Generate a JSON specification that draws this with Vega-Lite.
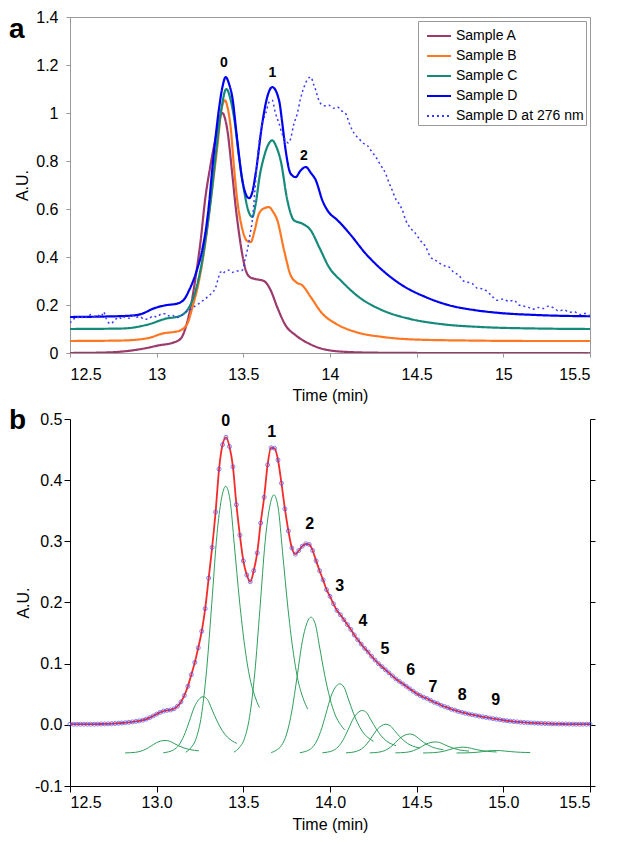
{
"$schema":"https://vega.github.io/schema/vega-lite/v6.json",
"background":"white",
"padding":{"left":8,"top":8,"right":5,"bottom":5},
"spacing":3,
"config":{"font":"Liberation Sans","axis":{"labelFont":"Liberation Sans","titleFont":"Liberation Sans","labelFontSize":16,"titleFontSize":16,"titleFontWeight":"normal","labelColor":"#000","titleColor":"#000","grid":false},"title":{"font":"Liberation Sans"}},
"datasets":{
"a":[
{"s":"Sample A","t":12.5,"v":0},{"s":"Sample A","t":12.7,"v":0.002},{"s":"Sample A","t":12.86,"v":0.011},{"s":"Sample A","t":12.95,"v":0.022},{"s":"Sample A","t":13.013,"v":0.032},{"s":"Sample A","t":13.09,"v":0.042},{"s":"Sample A","t":13.139,"v":0.06},{"s":"Sample A","t":13.168,"v":0.108},{"s":"Sample A","t":13.196,"v":0.19},{"s":"Sample A","t":13.225,"v":0.317},{"s":"Sample A","t":13.254,"v":0.47},{"s":"Sample A","t":13.279,"v":0.636},{"s":"Sample A","t":13.31,"v":0.78},{"s":"Sample A","t":13.341,"v":0.9},{"s":"Sample A","t":13.362,"v":0.975},{"s":"Sample A","t":13.379,"v":1.0},{"s":"Sample A","t":13.395,"v":0.975},{"s":"Sample A","t":13.408,"v":0.928},{"s":"Sample A","t":13.436,"v":0.747},{"s":"Sample A","t":13.456,"v":0.608},{"s":"Sample A","t":13.475,"v":0.5},{"s":"Sample A","t":13.494,"v":0.41},{"s":"Sample A","t":13.514,"v":0.345},{"s":"Sample A","t":13.54,"v":0.315},{"s":"Sample A","t":13.571,"v":0.308},{"s":"Sample A","t":13.619,"v":0.3},{"s":"Sample A","t":13.658,"v":0.261},{"s":"Sample A","t":13.696,"v":0.19},{"s":"Sample A","t":13.744,"v":0.115},{"s":"Sample A","t":13.802,"v":0.074},{"s":"Sample A","t":13.879,"v":0.039},{"s":"Sample A","t":13.975,"v":0.014},{"s":"Sample A","t":14.11,"v":0.004},{"s":"Sample A","t":14.3,"v":0.001},{"s":"Sample A","t":14.6,"v":0},{"s":"Sample A","t":15.5,"v":0},
{"s":"Sample B","t":12.5,"v":0.05},{"s":"Sample B","t":12.8,"v":0.052},{"s":"Sample B","t":12.95,"v":0.062},{"s":"Sample B","t":13.033,"v":0.081},{"s":"Sample B","t":13.129,"v":0.092},{"s":"Sample B","t":13.177,"v":0.122},{"s":"Sample B","t":13.206,"v":0.19},{"s":"Sample B","t":13.244,"v":0.3},{"s":"Sample B","t":13.283,"v":0.47},{"s":"Sample B","t":13.312,"v":0.636},{"s":"Sample B","t":13.35,"v":0.86},{"s":"Sample B","t":13.375,"v":1.02},{"s":"Sample B","t":13.394,"v":1.053},{"s":"Sample B","t":13.41,"v":1.02},{"s":"Sample B","t":13.427,"v":0.94},{"s":"Sample B","t":13.446,"v":0.775},{"s":"Sample B","t":13.465,"v":0.636},{"s":"Sample B","t":13.49,"v":0.53},{"s":"Sample B","t":13.52,"v":0.468},{"s":"Sample B","t":13.543,"v":0.462},{"s":"Sample B","t":13.565,"v":0.51},{"s":"Sample B","t":13.59,"v":0.58},{"s":"Sample B","t":13.62,"v":0.603},{"s":"Sample B","t":13.648,"v":0.608},{"s":"Sample B","t":13.67,"v":0.59},{"s":"Sample B","t":13.696,"v":0.553},{"s":"Sample B","t":13.735,"v":0.428},{"s":"Sample B","t":13.773,"v":0.324},{"s":"Sample B","t":13.805,"v":0.295},{"s":"Sample B","t":13.84,"v":0.282},{"s":"Sample B","t":13.889,"v":0.233},{"s":"Sample B","t":13.956,"v":0.164},{"s":"Sample B","t":14.033,"v":0.1225},{"s":"Sample B","t":14.148,"v":0.0875},{"s":"Sample B","t":14.302,"v":0.067},{"s":"Sample B","t":14.494,"v":0.056},{"s":"Sample B","t":14.8,"v":0.052},{"s":"Sample B","t":15.2,"v":0.05},{"s":"Sample B","t":15.5,"v":0.05},
{"s":"Sample C","t":12.5,"v":0.1},{"s":"Sample C","t":12.8,"v":0.102},{"s":"Sample C","t":12.956,"v":0.12},{"s":"Sample C","t":13.052,"v":0.143},{"s":"Sample C","t":13.129,"v":0.153},{"s":"Sample C","t":13.187,"v":0.19},{"s":"Sample C","t":13.225,"v":0.26},{"s":"Sample C","t":13.263,"v":0.386},{"s":"Sample C","t":13.292,"v":0.525},{"s":"Sample C","t":13.312,"v":0.636},{"s":"Sample C","t":13.34,"v":0.82},{"s":"Sample C","t":13.37,"v":1.0},{"s":"Sample C","t":13.402,"v":1.1},{"s":"Sample C","t":13.425,"v":1.06},{"s":"Sample C","t":13.446,"v":0.983},{"s":"Sample C","t":13.475,"v":0.817},{"s":"Sample C","t":13.504,"v":0.678},{"s":"Sample C","t":13.53,"v":0.59},{"s":"Sample C","t":13.552,"v":0.567},{"s":"Sample C","t":13.571,"v":0.62},{"s":"Sample C","t":13.595,"v":0.74},{"s":"Sample C","t":13.619,"v":0.817},{"s":"Sample C","t":13.645,"v":0.87},{"s":"Sample C","t":13.667,"v":0.886},{"s":"Sample C","t":13.69,"v":0.86},{"s":"Sample C","t":13.716,"v":0.8},{"s":"Sample C","t":13.754,"v":0.636},{"s":"Sample C","t":13.792,"v":0.553},{"s":"Sample C","t":13.84,"v":0.539},{"s":"Sample C","t":13.889,"v":0.511},{"s":"Sample C","t":13.937,"v":0.442},{"s":"Sample C","t":13.994,"v":0.358},{"s":"Sample C","t":14.071,"v":0.296},{"s":"Sample C","t":14.167,"v":0.233},{"s":"Sample C","t":14.302,"v":0.178},{"s":"Sample C","t":14.456,"v":0.143},{"s":"Sample C","t":14.648,"v":0.12},{"s":"Sample C","t":14.879,"v":0.108},{"s":"Sample C","t":15.2,"v":0.102},{"s":"Sample C","t":15.5,"v":0.1},
{"s":"Sample D","t":12.5,"v":0.15},{"s":"Sample D","t":12.7,"v":0.152},{"s":"Sample D","t":12.86,"v":0.156},{"s":"Sample D","t":12.917,"v":0.164},{"s":"Sample D","t":12.98,"v":0.185},{"s":"Sample D","t":13.052,"v":0.199},{"s":"Sample D","t":13.119,"v":0.206},{"s":"Sample D","t":13.16,"v":0.225},{"s":"Sample D","t":13.187,"v":0.261},{"s":"Sample D","t":13.225,"v":0.33},{"s":"Sample D","t":13.263,"v":0.43},{"s":"Sample D","t":13.286,"v":0.525},{"s":"Sample D","t":13.302,"v":0.62},{"s":"Sample D","t":13.32,"v":0.76},{"s":"Sample D","t":13.34,"v":0.9},{"s":"Sample D","t":13.36,"v":1.02},{"s":"Sample D","t":13.38,"v":1.11},{"s":"Sample D","t":13.398,"v":1.15},{"s":"Sample D","t":13.418,"v":1.12},{"s":"Sample D","t":13.436,"v":1.067},{"s":"Sample D","t":13.465,"v":0.886},{"s":"Sample D","t":13.494,"v":0.72},{"s":"Sample D","t":13.533,"v":0.645},{"s":"Sample D","t":13.552,"v":0.67},{"s":"Sample D","t":13.571,"v":0.747},{"s":"Sample D","t":13.609,"v":0.956},{"s":"Sample D","t":13.638,"v":1.067},{"s":"Sample D","t":13.667,"v":1.108},{"s":"Sample D","t":13.706,"v":1.053},{"s":"Sample D","t":13.725,"v":0.956},{"s":"Sample D","t":13.744,"v":0.845},{"s":"Sample D","t":13.773,"v":0.747},{"s":"Sample D","t":13.802,"v":0.733},{"s":"Sample D","t":13.83,"v":0.76},{"s":"Sample D","t":13.86,"v":0.775},{"s":"Sample D","t":13.89,"v":0.75},{"s":"Sample D","t":13.918,"v":0.72},{"s":"Sample D","t":13.956,"v":0.636},{"s":"Sample D","t":14.0,"v":0.58},{"s":"Sample D","t":14.033,"v":0.56},{"s":"Sample D","t":14.11,"v":0.5},{"s":"Sample D","t":14.206,"v":0.414},{"s":"Sample D","t":14.302,"v":0.345},{"s":"Sample D","t":14.417,"v":0.282},{"s":"Sample D","t":14.552,"v":0.233},{"s":"Sample D","t":14.687,"v":0.199},{"s":"Sample D","t":14.841,"v":0.178},{"s":"Sample D","t":14.975,"v":0.167},{"s":"Sample D","t":15.2,"v":0.158},{"s":"Sample D","t":15.5,"v":0.153},
{"s":"Sample D at 276 nm","t":12.5,"v":0.125},{"s":"Sample D at 276 nm","t":12.52,"v":0.14},{"s":"Sample D at 276 nm","t":12.54,"v":0.152},{"s":"Sample D at 276 nm","t":12.56,"v":0.143},{"s":"Sample D at 276 nm","t":12.58,"v":0.155},{"s":"Sample D at 276 nm","t":12.6,"v":0.147},{"s":"Sample D at 276 nm","t":12.62,"v":0.16},{"s":"Sample D at 276 nm","t":12.64,"v":0.152},{"s":"Sample D at 276 nm","t":12.66,"v":0.158},{"s":"Sample D at 276 nm","t":12.68,"v":0.15},{"s":"Sample D at 276 nm","t":12.694,"v":0.171},{"s":"Sample D at 276 nm","t":12.71,"v":0.14},{"s":"Sample D at 276 nm","t":12.735,"v":0.122},{"s":"Sample D at 276 nm","t":12.76,"v":0.138},{"s":"Sample D at 276 nm","t":12.78,"v":0.15},{"s":"Sample D at 276 nm","t":12.8,"v":0.142},{"s":"Sample D at 276 nm","t":12.82,"v":0.152},{"s":"Sample D at 276 nm","t":12.84,"v":0.145},{"s":"Sample D at 276 nm","t":12.86,"v":0.157},{"s":"Sample D at 276 nm","t":12.88,"v":0.148},{"s":"Sample D at 276 nm","t":12.9,"v":0.152},{"s":"Sample D at 276 nm","t":12.93,"v":0.14},{"s":"Sample D at 276 nm","t":12.956,"v":0.143},{"s":"Sample D at 276 nm","t":12.98,"v":0.155},{"s":"Sample D at 276 nm","t":13.0,"v":0.15},{"s":"Sample D at 276 nm","t":13.025,"v":0.162},{"s":"Sample D at 276 nm","t":13.052,"v":0.164},{"s":"Sample D at 276 nm","t":13.07,"v":0.155},{"s":"Sample D at 276 nm","t":13.09,"v":0.158},{"s":"Sample D at 276 nm","t":13.11,"v":0.148},{"s":"Sample D at 276 nm","t":13.129,"v":0.15},{"s":"Sample D at 276 nm","t":13.15,"v":0.16},{"s":"Sample D at 276 nm","t":13.17,"v":0.172},{"s":"Sample D at 276 nm","t":13.187,"v":0.178},{"s":"Sample D at 276 nm","t":13.21,"v":0.19},{"s":"Sample D at 276 nm","t":13.23,"v":0.2},{"s":"Sample D at 276 nm","t":13.244,"v":0.206},{"s":"Sample D at 276 nm","t":13.26,"v":0.215},{"s":"Sample D at 276 nm","t":13.28,"v":0.225},{"s":"Sample D at 276 nm","t":13.302,"v":0.24},{"s":"Sample D at 276 nm","t":13.32,"v":0.25},{"s":"Sample D at 276 nm","t":13.341,"v":0.275},{"s":"Sample D at 276 nm","t":13.355,"v":0.31},{"s":"Sample D at 276 nm","t":13.369,"v":0.3375},{"s":"Sample D at 276 nm","t":13.38,"v":0.33},{"s":"Sample D at 276 nm","t":13.395,"v":0.34},{"s":"Sample D at 276 nm","t":13.417,"v":0.345},{"s":"Sample D at 276 nm","t":13.435,"v":0.335},{"s":"Sample D at 276 nm","t":13.45,"v":0.34},{"s":"Sample D at 276 nm","t":13.47,"v":0.342},{"s":"Sample D at 276 nm","t":13.494,"v":0.345},{"s":"Sample D at 276 nm","t":13.51,"v":0.39},{"s":"Sample D at 276 nm","t":13.523,"v":0.428},{"s":"Sample D at 276 nm","t":13.54,"v":0.5},{"s":"Sample D at 276 nm","t":13.552,"v":0.553},{"s":"Sample D at 276 nm","t":13.565,"v":0.66},{"s":"Sample D at 276 nm","t":13.58,"v":0.8},{"s":"Sample D at 276 nm","t":13.595,"v":0.9},{"s":"Sample D at 276 nm","t":13.609,"v":0.956},{"s":"Sample D at 276 nm","t":13.63,"v":1.0},{"s":"Sample D at 276 nm","t":13.648,"v":1.045},{"s":"Sample D at 276 nm","t":13.667,"v":1.053},{"s":"Sample D at 276 nm","t":13.685,"v":1.0},{"s":"Sample D at 276 nm","t":13.706,"v":0.956},{"s":"Sample D at 276 nm","t":13.725,"v":0.91},{"s":"Sample D at 276 nm","t":13.744,"v":0.886},{"s":"Sample D at 276 nm","t":13.76,"v":0.875},{"s":"Sample D at 276 nm","t":13.773,"v":0.893},{"s":"Sample D at 276 nm","t":13.79,"v":0.95},{"s":"Sample D at 276 nm","t":13.811,"v":0.997},{"s":"Sample D at 276 nm","t":13.83,"v":1.06},{"s":"Sample D at 276 nm","t":13.85,"v":1.108},{"s":"Sample D at 276 nm","t":13.87,"v":1.14},{"s":"Sample D at 276 nm","t":13.889,"v":1.15},{"s":"Sample D at 276 nm","t":13.905,"v":1.12},{"s":"Sample D at 276 nm","t":13.918,"v":1.095},{"s":"Sample D at 276 nm","t":13.932,"v":1.06},{"s":"Sample D at 276 nm","t":13.946,"v":1.039},{"s":"Sample D at 276 nm","t":13.97,"v":1.03},{"s":"Sample D at 276 nm","t":13.994,"v":1.032},{"s":"Sample D at 276 nm","t":14.02,"v":1.02},{"s":"Sample D at 276 nm","t":14.042,"v":1.025},{"s":"Sample D at 276 nm","t":14.065,"v":1.01},{"s":"Sample D at 276 nm","t":14.091,"v":0.997},{"s":"Sample D at 276 nm","t":14.11,"v":0.96},{"s":"Sample D at 276 nm","t":14.129,"v":0.928},{"s":"Sample D at 276 nm","t":14.15,"v":0.905},{"s":"Sample D at 276 nm","t":14.167,"v":0.893},{"s":"Sample D at 276 nm","t":14.19,"v":0.875},{"s":"Sample D at 276 nm","t":14.215,"v":0.865},{"s":"Sample D at 276 nm","t":14.24,"v":0.84},{"s":"Sample D at 276 nm","t":14.264,"v":0.817},{"s":"Sample D at 276 nm","t":14.29,"v":0.785},{"s":"Sample D at 276 nm","t":14.321,"v":0.747},{"s":"Sample D at 276 nm","t":14.34,"v":0.71},{"s":"Sample D at 276 nm","t":14.359,"v":0.678},{"s":"Sample D at 276 nm","t":14.38,"v":0.64},{"s":"Sample D at 276 nm","t":14.398,"v":0.622},{"s":"Sample D at 276 nm","t":14.415,"v":0.6},{"s":"Sample D at 276 nm","t":14.437,"v":0.553},{"s":"Sample D at 276 nm","t":14.465,"v":0.52},{"s":"Sample D at 276 nm","t":14.494,"v":0.4975},{"s":"Sample D at 276 nm","t":14.52,"v":0.47},{"s":"Sample D at 276 nm","t":14.552,"v":0.442},{"s":"Sample D at 276 nm","t":14.58,"v":0.4},{"s":"Sample D at 276 nm","t":14.61,"v":0.386},{"s":"Sample D at 276 nm","t":14.64,"v":0.37},{"s":"Sample D at 276 nm","t":14.665,"v":0.362},{"s":"Sample D at 276 nm","t":14.687,"v":0.358},{"s":"Sample D at 276 nm","t":14.715,"v":0.335},{"s":"Sample D at 276 nm","t":14.744,"v":0.324},{"s":"Sample D at 276 nm","t":14.77,"v":0.3},{"s":"Sample D at 276 nm","t":14.795,"v":0.295},{"s":"Sample D at 276 nm","t":14.821,"v":0.289},{"s":"Sample D at 276 nm","t":14.85,"v":0.27},{"s":"Sample D at 276 nm","t":14.875,"v":0.268},{"s":"Sample D at 276 nm","t":14.898,"v":0.261},{"s":"Sample D at 276 nm","t":14.93,"v":0.24},{"s":"Sample D at 276 nm","t":14.965,"v":0.22},{"s":"Sample D at 276 nm","t":15.0,"v":0.225},{"s":"Sample D at 276 nm","t":15.03,"v":0.215},{"s":"Sample D at 276 nm","t":15.06,"v":0.22},{"s":"Sample D at 276 nm","t":15.09,"v":0.2},{"s":"Sample D at 276 nm","t":15.12,"v":0.195},{"s":"Sample D at 276 nm","t":15.145,"v":0.19},{"s":"Sample D at 276 nm","t":15.17,"v":0.182},{"s":"Sample D at 276 nm","t":15.2,"v":0.19},{"s":"Sample D at 276 nm","t":15.23,"v":0.185},{"s":"Sample D at 276 nm","t":15.26,"v":0.195},{"s":"Sample D at 276 nm","t":15.29,"v":0.188},{"s":"Sample D at 276 nm","t":15.32,"v":0.175},{"s":"Sample D at 276 nm","t":15.35,"v":0.18},{"s":"Sample D at 276 nm","t":15.38,"v":0.17},{"s":"Sample D at 276 nm","t":15.41,"v":0.172},{"s":"Sample D at 276 nm","t":15.44,"v":0.16},{"s":"Sample D at 276 nm","t":15.47,"v":0.165},{"s":"Sample D at 276 nm","t":15.5,"v":0.155}
],
"la":[{"lab":"0","t":13.388,"v":1.21},{"lab":"1","t":13.667,"v":1.165},{"lab":"2","t":13.85,"v":0.82}],
"lb":[{"lab":"0","t":13.398,"v":0.4975},{"lab":"1","t":13.664,"v":0.478},{"lab":"2","t":13.883,"v":0.329},{"lab":"3","t":14.056,"v":0.227},{"lab":"4","t":14.19,"v":0.169},{"lab":"5","t":14.317,"v":0.124},{"lab":"6","t":14.466,"v":0.09},{"lab":"7","t":14.594,"v":0.0626},{"lab":"8","t":14.763,"v":0.049},{"lab":"9","t":14.956,"v":0.041}],
"fit":[
{"t":12.5,"v":0.001},{"t":12.52,"v":0.001},{"t":12.54,"v":0.001},{"t":12.56,"v":0.001},{"t":12.58,"v":0.001},{"t":12.6,"v":0.001},{"t":12.62,"v":0.001},{"t":12.64,"v":0.001},{"t":12.66,"v":0.0012},{"t":12.68,"v":0.0014},{"t":12.7,"v":0.0015},{"t":12.72,"v":0.0016},{"t":12.74,"v":0.0019},{"t":12.76,"v":0.0022},{"t":12.78,"v":0.0026},{"t":12.8,"v":0.003},{"t":12.82,"v":0.0035},{"t":12.84,"v":0.0041},{"t":12.86,"v":0.0048},{"t":12.88,"v":0.0056},{"t":12.9,"v":0.0065},{"t":12.92,"v":0.0076},{"t":12.94,"v":0.0094},{"t":12.96,"v":0.0118},{"t":12.98,"v":0.0145},{"t":13.0,"v":0.0175},{"t":13.02,"v":0.0203},{"t":13.04,"v":0.0225},{"t":13.06,"v":0.0237},{"t":13.08,"v":0.0243},{"t":13.1,"v":0.0262},{"t":13.12,"v":0.0305},{"t":13.14,"v":0.0375},{"t":13.16,"v":0.048},{"t":13.18,"v":0.063},{"t":13.2,"v":0.082},{"t":13.22,"v":0.102},{"t":13.24,"v":0.126},{"t":13.26,"v":0.153},{"t":13.28,"v":0.19},{"t":13.3,"v":0.24},{"t":13.32,"v":0.29},{"t":13.34,"v":0.348},{"t":13.36,"v":0.418},{"t":13.38,"v":0.458},{"t":13.4,"v":0.47},{"t":13.42,"v":0.455},{"t":13.44,"v":0.422},{"t":13.46,"v":0.36},{"t":13.48,"v":0.31},{"t":13.5,"v":0.268},{"t":13.52,"v":0.245},{"t":13.54,"v":0.234},{"t":13.56,"v":0.252},{"t":13.58,"v":0.281},{"t":13.6,"v":0.33},{"t":13.62,"v":0.372},{"t":13.64,"v":0.425},{"t":13.66,"v":0.453},{"t":13.68,"v":0.452},{"t":13.7,"v":0.433},{"t":13.72,"v":0.395},{"t":13.74,"v":0.353},{"t":13.76,"v":0.317},{"t":13.78,"v":0.289},{"t":13.8,"v":0.279},{"t":13.82,"v":0.285},{"t":13.84,"v":0.292},{"t":13.86,"v":0.296},{"t":13.88,"v":0.295},{"t":13.9,"v":0.285},{"t":13.92,"v":0.268},{"t":13.94,"v":0.252},{"t":13.96,"v":0.237},{"t":13.98,"v":0.221},{"t":14.0,"v":0.21},{"t":14.02,"v":0.198},{"t":14.04,"v":0.187},{"t":14.06,"v":0.18},{"t":14.08,"v":0.172},{"t":14.1,"v":0.164},{"t":14.12,"v":0.156},{"t":14.14,"v":0.147},{"t":14.16,"v":0.139},{"t":14.18,"v":0.132},{"t":14.2,"v":0.125},{"t":14.22,"v":0.119},{"t":14.24,"v":0.112},{"t":14.26,"v":0.106},{"t":14.28,"v":0.1},{"t":14.3,"v":0.095},{"t":14.32,"v":0.09},{"t":14.34,"v":0.085},{"t":14.36,"v":0.08},{"t":14.38,"v":0.075},{"t":14.4,"v":0.071},{"t":14.42,"v":0.067},{"t":14.44,"v":0.063},{"t":14.46,"v":0.059},{"t":14.48,"v":0.055},{"t":14.5,"v":0.051},{"t":14.52,"v":0.048},{"t":14.54,"v":0.045},{"t":14.56,"v":0.043},{"t":14.58,"v":0.04},{"t":14.6,"v":0.037},{"t":14.62,"v":0.035},{"t":14.64,"v":0.032},{"t":14.66,"v":0.03},{"t":14.68,"v":0.028},{"t":14.7,"v":0.0255},{"t":14.72,"v":0.024},{"t":14.74,"v":0.022},{"t":14.76,"v":0.0205},{"t":14.78,"v":0.019},{"t":14.8,"v":0.0177},{"t":14.82,"v":0.0165},{"t":14.84,"v":0.0154},{"t":14.86,"v":0.0143},{"t":14.88,"v":0.0132},{"t":14.9,"v":0.0122},{"t":14.92,"v":0.0112},{"t":14.94,"v":0.0102},{"t":14.96,"v":0.0093},{"t":14.98,"v":0.0084},{"t":15.0,"v":0.0075},{"t":15.02,"v":0.0067},{"t":15.04,"v":0.006},{"t":15.06,"v":0.0054},{"t":15.08,"v":0.0048},{"t":15.1,"v":0.0043},{"t":15.12,"v":0.0039},{"t":15.14,"v":0.0035},{"t":15.16,"v":0.0032},{"t":15.18,"v":0.0029},{"t":15.2,"v":0.0026},{"t":15.22,"v":0.0024},{"t":15.24,"v":0.0022},{"t":15.26,"v":0.002},{"t":15.28,"v":0.0018},{"t":15.3,"v":0.0016},{"t":15.32,"v":0.0015},{"t":15.34,"v":0.0014},{"t":15.36,"v":0.0013},{"t":15.38,"v":0.0012},{"t":15.4,"v":0.0011},{"t":15.42,"v":0.001},{"t":15.44,"v":0.001},{"t":15.46,"v":0.001},{"t":15.48,"v":0.001},{"t":15.5,"v":0.001}
],
"comps":[
{"g":"a","t":12.818,"v":-0.0459},{"g":"a","t":12.848,"v":-0.0456},{"g":"a","t":12.878,"v":-0.0449},{"g":"a","t":12.908,"v":-0.0431},{"g":"a","t":12.938,"v":-0.0397},{"g":"a","t":12.968,"v":-0.0346},{"g":"a","t":12.998,"v":-0.0293},{"g":"a","t":13.023,"v":-0.0266},{"g":"a","t":13.048,"v":-0.0256},{"g":"a","t":13.073,"v":-0.0266},{"g":"a","t":13.098,"v":-0.0301},{"g":"a","t":13.128,"v":-0.0344},{"g":"a","t":13.158,"v":-0.0378},{"g":"a","t":13.188,"v":-0.0403},{"g":"a","t":13.218,"v":-0.0417},{"g":"a","t":13.243,"v":-0.0425},
{"g":"b","t":13.038,"v":-0.0457},{"g":"b","t":13.068,"v":-0.0442},{"g":"b","t":13.098,"v":-0.0409},{"g":"b","t":13.128,"v":-0.0331},{"g":"b","t":13.158,"v":-0.0175},{"g":"b","t":13.188,"v":0.0055},{"g":"b","t":13.218,"v":0.0294},{"g":"b","t":13.243,"v":0.0414},{"g":"b","t":13.268,"v":0.046},{"g":"b","t":13.293,"v":0.0414},{"g":"b","t":13.318,"v":0.0258},{"g":"b","t":13.348,"v":0.0064},{"g":"b","t":13.378,"v":-0.0092},{"g":"b","t":13.408,"v":-0.0202},{"g":"b","t":13.438,"v":-0.0267},{"g":"b","t":13.463,"v":-0.0304},
{"g":"c0","t":13.168,"v":-0.0447},{"g":"c0","t":13.198,"v":-0.0373},{"g":"c0","t":13.228,"v":-0.022},{"g":"c0","t":13.258,"v":0.015},{"g":"c0","t":13.288,"v":0.0892},{"g":"c0","t":13.318,"v":0.1982},{"g":"c0","t":13.348,"v":0.3115},{"g":"c0","t":13.373,"v":0.3682},{"g":"c0","t":13.398,"v":0.39},{"g":"c0","t":13.423,"v":0.3682},{"g":"c0","t":13.448,"v":0.2941},{"g":"c0","t":13.478,"v":0.2025},{"g":"c0","t":13.508,"v":0.1284},{"g":"c0","t":13.538,"v":0.0761},{"g":"c0","t":13.568,"v":0.0456},{"g":"c0","t":13.593,"v":0.0281},
{"g":"c1","t":13.446,"v":-0.0447},{"g":"c1","t":13.476,"v":-0.0376},{"g":"c1","t":13.506,"v":-0.0228},{"g":"c1","t":13.536,"v":0.0131},{"g":"c1","t":13.566,"v":0.0848},{"g":"c1","t":13.596,"v":0.1903},{"g":"c1","t":13.626,"v":0.3},{"g":"c1","t":13.651,"v":0.3549},{"g":"c1","t":13.676,"v":0.376},{"g":"c1","t":13.701,"v":0.3549},{"g":"c1","t":13.726,"v":0.2832},{"g":"c1","t":13.756,"v":0.1945},{"g":"c1","t":13.786,"v":0.1228},{"g":"c1","t":13.816,"v":0.0722},{"g":"c1","t":13.846,"v":0.0426},{"g":"c1","t":13.871,"v":0.0257},
{"g":"c2","t":13.66,"v":-0.0453},{"g":"c2","t":13.69,"v":-0.0416},{"g":"c2","t":13.72,"v":-0.0338},{"g":"c2","t":13.75,"v":-0.0149},{"g":"c2","t":13.78,"v":0.0228},{"g":"c2","t":13.81,"v":0.0783},{"g":"c2","t":13.84,"v":0.136},{"g":"c2","t":13.865,"v":0.1649},{"g":"c2","t":13.89,"v":0.176},{"g":"c2","t":13.915,"v":0.1649},{"g":"c2","t":13.94,"v":0.1272},{"g":"c2","t":13.97,"v":0.0805},{"g":"c2","t":14.0,"v":0.0428},{"g":"c2","t":14.03,"v":0.0162},{"g":"c2","t":14.06,"v":0.0006},{"g":"c2","t":14.085,"v":-0.0083},
{"g":"c3","t":13.826,"v":-0.0457},{"g":"c3","t":13.856,"v":-0.0437},{"g":"c3","t":13.886,"v":-0.0398},{"g":"c3","t":13.916,"v":-0.0302},{"g":"c3","t":13.946,"v":-0.011},{"g":"c3","t":13.976,"v":0.0173},{"g":"c3","t":14.006,"v":0.0467},{"g":"c3","t":14.031,"v":0.0614},{"g":"c3","t":14.056,"v":0.067},{"g":"c3","t":14.081,"v":0.0614},{"g":"c3","t":14.106,"v":0.0421},{"g":"c3","t":14.136,"v":0.0184},{"g":"c3","t":14.166,"v":-0.0008},{"g":"c3","t":14.196,"v":-0.0144},{"g":"c3","t":14.226,"v":-0.0223},{"g":"c3","t":14.251,"v":-0.0268},
{"g":"c4","t":13.956,"v":-0.0458},{"g":"c4","t":13.986,"v":-0.0446},{"g":"c4","t":14.016,"v":-0.0422},{"g":"c4","t":14.046,"v":-0.0363},{"g":"c4","t":14.076,"v":-0.0245},{"g":"c4","t":14.106,"v":-0.0071},{"g":"c4","t":14.136,"v":0.0109},{"g":"c4","t":14.161,"v":0.0199},{"g":"c4","t":14.186,"v":0.0234},{"g":"c4","t":14.211,"v":0.0199},{"g":"c4","t":14.236,"v":0.0081},{"g":"c4","t":14.266,"v":-0.0064},{"g":"c4","t":14.296,"v":-0.0182},{"g":"c4","t":14.326,"v":-0.0266},{"g":"c4","t":14.356,"v":-0.0314},{"g":"c4","t":14.381,"v":-0.0342},
{"g":"c5","t":14.092,"v":-0.0459},{"g":"c5","t":14.122,"v":-0.0451},{"g":"c5","t":14.152,"v":-0.0434},{"g":"c5","t":14.182,"v":-0.0394},{"g":"c5","t":14.212,"v":-0.0314},{"g":"c5","t":14.242,"v":-0.0197},{"g":"c5","t":14.272,"v":-0.0075},{"g":"c5","t":14.297,"v":-0.0014},{"g":"c5","t":14.322,"v":0.001},{"g":"c5","t":14.347,"v":-0.0014},{"g":"c5","t":14.372,"v":-0.0093},{"g":"c5","t":14.402,"v":-0.0192},{"g":"c5","t":14.432,"v":-0.0272},{"g":"c5","t":14.462,"v":-0.0328},{"g":"c5","t":14.492,"v":-0.0361},{"g":"c5","t":14.517,"v":-0.038},
{"g":"c6","t":14.229,"v":-0.0459},{"g":"c6","t":14.259,"v":-0.0454},{"g":"c6","t":14.289,"v":-0.0443},{"g":"c6","t":14.319,"v":-0.0417},{"g":"c6","t":14.349,"v":-0.0364},{"g":"c6","t":14.379,"v":-0.0286},{"g":"c6","t":14.409,"v":-0.0206},{"g":"c6","t":14.434,"v":-0.0166},{"g":"c6","t":14.459,"v":-0.015},{"g":"c6","t":14.484,"v":-0.0166},{"g":"c6","t":14.509,"v":-0.0218},{"g":"c6","t":14.539,"v":-0.0283},{"g":"c6","t":14.569,"v":-0.0336},{"g":"c6","t":14.599,"v":-0.0373},{"g":"c6","t":14.629,"v":-0.0395},{"g":"c6","t":14.654,"v":-0.0407},
{"g":"c7","t":14.377,"v":-0.0459},{"g":"c7","t":14.407,"v":-0.0456},{"g":"c7","t":14.437,"v":-0.045},{"g":"c7","t":14.467,"v":-0.0435},{"g":"c7","t":14.497,"v":-0.0404},{"g":"c7","t":14.527,"v":-0.0359},{"g":"c7","t":14.557,"v":-0.0312},{"g":"c7","t":14.582,"v":-0.0289},{"g":"c7","t":14.607,"v":-0.028},{"g":"c7","t":14.632,"v":-0.0289},{"g":"c7","t":14.657,"v":-0.032},{"g":"c7","t":14.687,"v":-0.0357},{"g":"c7","t":14.717,"v":-0.0388},{"g":"c7","t":14.747,"v":-0.041},{"g":"c7","t":14.777,"v":-0.0422},{"g":"c7","t":14.802,"v":-0.0429},
{"g":"c8","t":14.537,"v":-0.046},{"g":"c8","t":14.567,"v":-0.0458},{"g":"c8","t":14.597,"v":-0.0455},{"g":"c8","t":14.627,"v":-0.0447},{"g":"c8","t":14.657,"v":-0.0431},{"g":"c8","t":14.687,"v":-0.0407},{"g":"c8","t":14.717,"v":-0.0382},{"g":"c8","t":14.742,"v":-0.037},{"g":"c8","t":14.767,"v":-0.0365},{"g":"c8","t":14.792,"v":-0.037},{"g":"c8","t":14.817,"v":-0.0386},{"g":"c8","t":14.847,"v":-0.0406},{"g":"c8","t":14.877,"v":-0.0422},{"g":"c8","t":14.907,"v":-0.0433},{"g":"c8","t":14.937,"v":-0.044},{"g":"c8","t":14.962,"v":-0.0444},
{"g":"c9","t":14.73,"v":-0.046},{"g":"c9","t":14.76,"v":-0.0459},{"g":"c9","t":14.79,"v":-0.0458},{"g":"c9","t":14.82,"v":-0.0454},{"g":"c9","t":14.85,"v":-0.0448},{"g":"c9","t":14.88,"v":-0.0438},{"g":"c9","t":14.91,"v":-0.0427},{"g":"c9","t":14.935,"v":-0.0422},{"g":"c9","t":14.96,"v":-0.042},{"g":"c9","t":14.985,"v":-0.0422},{"g":"c9","t":15.01,"v":-0.0429},{"g":"c9","t":15.04,"v":-0.0437},{"g":"c9","t":15.07,"v":-0.0444},{"g":"c9","t":15.1,"v":-0.0449},{"g":"c9","t":15.13,"v":-0.0452},{"g":"c9","t":15.155,"v":-0.0453}
]
},
"vconcat":[
{
"width":520,"height":336,
"title":{"text":"a","anchor":"start","frame":"group","fontSize":28,"fontWeight":"bold","color":"#000","dx":-61,"dy":35,"offset":0},
"view":{"stroke":"#999"},
"layer":[
{"data":{"name":"a"},"mark":{"type":"line","interpolate":"monotone","clip":true},
"encoding":{
"x":{"field":"t","type":"quantitative","scale":{"domain":[12.5,15.5],"nice":false},"axis":{"values":[12.5,13,13.5,14,14.5,15,15.5],"format":"~g","title":"Time (min)","domainColor":"#999","tickColor":"#999","tickSize":4,"labelPadding":9,"titlePadding":5}},
"y":{"field":"v","type":"quantitative","scale":{"domain":[0,1.4],"nice":false},"axis":{"values":[0,0.2,0.4,0.6,0.8,1,1.2,1.4],"format":"~g","title":"A.U.","domainColor":"#999","tickColor":"#999","tickSize":4,"labelPadding":8,"titlePadding":5}},
"color":{"field":"s","type":"nominal","scale":{"domain":["Sample A","Sample B","Sample C","Sample D","Sample D at 276 nm"],"range":["#9b3a6b","#ff7722","#158a7b","#0000f0","#3a3aff"]},"legend":{"title":null,"orient":"top-right","offset":4,"strokeColor":"#999","fillColor":"white","padding":2,"symbolOffset":6,"labelFontSize":14,"labelFont":"Liberation Sans","symbolType":"stroke","symbolSize":576,"symbolStrokeWidth":2,"rowPadding":0,"labelOffset":4}},
"strokeDash":{"field":"s","type":"nominal","scale":{"domain":["Sample A","Sample B","Sample C","Sample D","Sample D at 276 nm"],"range":[[1,0],[1,0],[1,0],[1,0],[2,3]]},"legend":{"title":null,"orient":"top-right","offset":4,"strokeColor":"#999","fillColor":"white","padding":2,"symbolOffset":6,"labelFontSize":14,"labelFont":"Liberation Sans","symbolType":"stroke","symbolSize":576,"symbolStrokeWidth":2,"rowPadding":0,"labelOffset":4}},
"strokeWidth":{"condition":{"test":"datum.s === 'Sample D at 276 nm'","value":1.5},"value":2.2}
}},
{"data":{"name":"la"},"mark":{"type":"text","fontWeight":"bold","fontSize":14,"font":"Liberation Sans","color":"#000"},
"encoding":{
"x":{"field":"t","type":"quantitative","scale":{"domain":[12.5,15.5],"nice":false},"axis":{"values":[12.5,13,13.5,14,14.5,15,15.5],"format":"~g","title":"Time (min)","domainColor":"#999","tickColor":"#999","tickSize":4,"labelPadding":9,"titlePadding":5}},
"y":{"field":"v","type":"quantitative","scale":{"domain":[0,1.4],"nice":false},"axis":{"values":[0,0.2,0.4,0.6,0.8,1,1.2,1.4],"format":"~g","title":"A.U.","domainColor":"#999","tickColor":"#999","tickSize":4,"labelPadding":8,"titlePadding":5}},
"text":{"field":"lab","type":"nominal"}}}
]
},
{
"width":520,"height":367,
"title":{"text":"b","anchor":"start","frame":"group","fontSize":28,"fontWeight":"bold","color":"#000","dx":-61,"dy":24,"offset":0},
"view":{"stroke":null},
"layer":[
{"data":{"name":"comps"},"mark":{"type":"line","color":"#2e9e5b","strokeWidth":1,"interpolate":"monotone"},
"encoding":{
"x":{"field":"t","type":"quantitative","scale":{"domain":[12.5,15.5],"nice":false},"axis":{"values":[12.5,13,13.5,14,14.5,15,15.5],"format":".1f","title":"Time (min)","domainColor":"#000","tickColor":"#000","tickSize":6,"labelPadding":2,"titlePadding":6}},
"y":{"field":"v","type":"quantitative","scale":{"domain":[-0.1,0.5],"nice":false},"axis":null},
"detail":{"field":"g","type":"nominal"}}},
{"data":{"name":"fit"},"mark":{"type":"line","color":"#f52a2a","strokeWidth":1.8,"interpolate":"monotone"},
"encoding":{
"x":{"field":"t","type":"quantitative","scale":{"domain":[12.5,15.5],"nice":false},"axis":{"values":[12.5,13,13.5,14,14.5,15,15.5],"format":".1f","title":"Time (min)","domainColor":"#000","tickColor":"#000","tickSize":6,"labelPadding":2,"titlePadding":6}},
"y":{"field":"v","type":"quantitative","scale":{"domain":[-0.1,0.5],"nice":false},"axis":{"values":[-0.1,0,0.1,0.2,0.3,0.4,0.5],"labelExpr":"replace(format(datum.value, '.1f'), '−', '-')","title":"A.U.","domainColor":"#000","tickColor":"#000","tickSize":6,"labelPadding":2,"titlePadding":3}}}},
{"data":{"name":"fit"},"mark":{"type":"point","shape":"circle","filled":false,"color":"#4b4bf5","size":16,"strokeWidth":1},
"encoding":{
"x":{"field":"t","type":"quantitative","scale":{"domain":[12.5,15.5],"nice":false},"axis":{"values":[12.5,13,13.5,14,14.5,15,15.5],"format":".1f","title":"Time (min)","domainColor":"#000","tickColor":"#000","tickSize":6,"labelPadding":2,"titlePadding":6}},
"y":{"field":"v","type":"quantitative","scale":{"domain":[-0.1,0.5],"nice":false},"axis":null}}},
{"data":{"name":"lb"},"mark":{"type":"text","fontWeight":"bold","fontSize":16,"font":"Liberation Sans","color":"#000"},
"encoding":{
"x":{"field":"t","type":"quantitative","scale":{"domain":[12.5,15.5],"nice":false},"axis":{"values":[12.5,13,13.5,14,14.5,15,15.5],"format":".1f","title":"Time (min)","domainColor":"#000","tickColor":"#000","tickSize":6,"labelPadding":2,"titlePadding":6}},
"y":{"field":"v","type":"quantitative","scale":{"domain":[-0.1,0.5],"nice":false},"axis":{"orient":"right","values":[-0.1,0,0.1,0.2,0.3,0.4,0.5],"labels":false,"title":null,"domainColor":"#000","tickColor":"#000","tickSize":5}},
"text":{"field":"lab","type":"nominal"}}}
],
"resolve":{"axis":{"y":"independent"}}
}
]
}
